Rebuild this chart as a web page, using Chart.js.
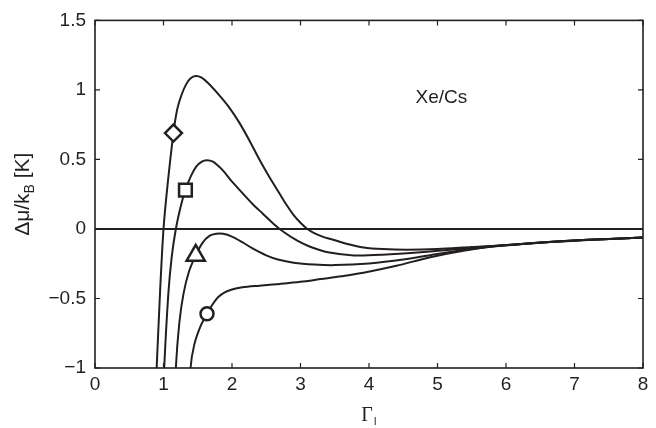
<!DOCTYPE html>
<html><head><meta charset="utf-8">
<script src="https://cdn.jsdelivr.net/npm/chart.js@4.4.1/dist/chart.umd.min.js"></script>
<style>html,body{margin:0;padding:0;background:#fff}#wrap{width:656px;height:428px;position:relative}</style>
</head><body><div id="wrap"><canvas id="c"></canvas></div>
<script>
// ---- data ----
const xTicks = [0, 1, 2, 3, 4, 5, 6, 7, 8];
const yTicks = [-1, -0.5, 0, 0.5, 1, 1.5];
const yTickLabels = ['\u22121', '\u22120.5', '0', '0.5', '1', '1.5'];

const curveAX = [0.86, 0.90, 0.95, 1.00, 1.06, 1.145, 1.20, 1.26, 1.33, 1.40, 1.47, 1.55, 1.65, 1.80, 1.95, 2.10, 2.25, 2.40, 2.55, 2.70, 2.80, 2.90, 3.00, 3.10, 3.20, 3.32, 3.44, 3.70, 3.92, 4.20, 4.55, 5.00, 5.50, 5.84, 6.50, 7.20, 8.00];
const curveAY = [-1.4, -1.0, -0.45, 0.0, 0.32, 0.69, 0.86, 0.96, 1.04, 1.085, 1.10, 1.09, 1.05, 0.97, 0.88, 0.77, 0.64, 0.50, 0.37, 0.25, 0.17, 0.10, 0.045, 0.0, -0.03, -0.055, -0.072, -0.11, -0.133, -0.145, -0.15, -0.145, -0.13, -0.121, -0.098, -0.078, -0.062];

const curveBX = [0.98, 1.01, 1.07, 1.12, 1.18, 1.25, 1.32, 1.40, 1.48, 1.56, 1.63, 1.72, 1.85, 2.00, 2.15, 2.30, 2.45, 2.60, 2.75, 2.96, 3.15, 3.40, 3.78, 4.20, 4.80, 5.40, 5.84, 6.50, 7.20, 8.00];
const curveBY = [-1.4, -1.0, -0.47, -0.2, 0.0, 0.16, 0.28, 0.38, 0.45, 0.485, 0.495, 0.485, 0.43, 0.34, 0.26, 0.18, 0.11, 0.04, -0.02, -0.086, -0.13, -0.168, -0.19, -0.185, -0.165, -0.14, -0.122, -0.098, -0.078, -0.062];

const curveCX = [1.15, 1.18, 1.23, 1.29, 1.37, 1.47, 1.57, 1.67, 1.77, 1.87, 2.00, 2.15, 2.30, 2.50, 2.67, 2.90, 3.20, 3.50, 4.00, 4.50, 5.00, 5.40, 5.84, 6.50, 7.20, 8.00];
const curveCY = [-1.4, -1.0, -0.68, -0.47, -0.31, -0.19, -0.10, -0.05, -0.035, -0.035, -0.055, -0.095, -0.14, -0.19, -0.22, -0.243, -0.256, -0.26, -0.248, -0.22, -0.18, -0.15, -0.124, -0.099, -0.078, -0.062];

const curveDX = [1.37, 1.395, 1.45, 1.54, 1.635, 1.72, 1.80, 1.90, 2.00, 2.15, 2.40, 2.70, 3.00, 3.30, 3.60, 3.92, 4.40, 4.88, 5.40, 5.84, 6.50, 7.20, 8.00];
const curveDY = [-1.4, -1.0, -0.83, -0.70, -0.61, -0.54, -0.49, -0.455, -0.435, -0.42, -0.408, -0.395, -0.38, -0.36, -0.34, -0.315, -0.265, -0.205, -0.155, -0.125, -0.099, -0.079, -0.062];

const markerX = [1.145, 1.32, 1.47, 1.635];
const markerY = [0.69, 0.28, -0.19, -0.61];
const markerStyles = ['rectRot', 'rect', 'triangle', 'circle'];
const markerRadius = [8.5, 9, 10.5, 6.5];

const zeroX = [0, 8];
const zeroY = [0, 0];

const annotationText = 'Xe/Cs';
const annotationX = 4.68;
const annotationY = 0.94;

// ---- build ----
const INK = '#231f20';
const FONT = '"Liberation Sans", Arial, sans-serif';
const pts = (xs, ys) => xs.map((x, i) => ({x, y: ys[i]}));
const lineDs = (xs, ys) => ({
  type: 'line', data: pts(xs, ys), borderColor: INK, borderWidth: 2,
  pointRadius: 0, fill: false, tension: 0.3, clip: 0, order: 2
});
const datasets = [
  lineDs(zeroX, zeroY),
  lineDs(curveAX, curveAY),
  lineDs(curveBX, curveBY),
  lineDs(curveCX, curveCY),
  lineDs(curveDX, curveDY)
];
datasets[0].tension = 0;
markerX.forEach((x, i) => {
  datasets.push({
    type: 'scatter', data: [{x, y: markerY[i]}], pointStyle: markerStyles[i],
    pointRadius: markerRadius[i], pointBackgroundColor: '#fff', pointBorderColor: INK,
    pointBorderWidth: 2.5, showLine: false, order: 0, clip: false
  });
});

const decor = {
  id: 'decor',
  afterDraw(chart) {
    const {ctx, chartArea: a, scales: {x, y}} = chart;
    ctx.save();
    ctx.strokeStyle = INK;
    ctx.lineWidth = 1.6;
    ctx.strokeRect(a.left, a.top, a.right - a.left, a.bottom - a.top);
    ctx.lineWidth = 1.2;
    const tl = 5;
    ctx.beginPath();
    xTicks.forEach(v => {
      const px = x.getPixelForValue(v);
      ctx.moveTo(px, a.bottom); ctx.lineTo(px, a.bottom - tl);
      ctx.moveTo(px, a.top); ctx.lineTo(px, a.top + tl);
    });
    yTicks.forEach(v => {
      const py = y.getPixelForValue(v);
      ctx.moveTo(a.left, py); ctx.lineTo(a.left + tl, py);
      ctx.moveTo(a.right, py); ctx.lineTo(a.right - tl, py);
    });
    ctx.stroke();

    ctx.fillStyle = INK;
    // annotation
    ctx.font = '19px ' + FONT;
    ctx.textBaseline = 'middle';
    ctx.textAlign = 'left';
    ctx.fillText(annotationText, x.getPixelForValue(annotationX), y.getPixelForValue(annotationY));

    // x title: Γ_l
    const xc = (a.left + a.right) / 2;
    ctx.font = '20px "Liberation Serif", "Times New Roman", serif';
    ctx.textAlign = 'center';
    ctx.textBaseline = 'alphabetic';
    ctx.fillText('\u0393', xc - 2, 421);
    ctx.font = '11px ' + FONT;
    ctx.textAlign = 'left';
    ctx.fillText('l', xc + 5, 425);

    // y title: Δμ/k_B [K]
    ctx.save();
    ctx.translate(29, (a.top + a.bottom) / 2);
    ctx.rotate(-Math.PI / 2);
    const f1 = '21px ' + FONT;
    const f2 = '14px ' + FONT;
    const p1 = '\u0394\u03bc/k', p2 = 'B', p3 = ' [K]';
    ctx.font = f1; const w1 = ctx.measureText(p1).width; const w3 = ctx.measureText(p3).width;
    ctx.font = f2; const w2 = ctx.measureText(p2).width;
    let sx = -(w1 + w2 + w3) / 2;
    ctx.textAlign = 'left';
    ctx.font = f1; ctx.fillText(p1, sx, 0); sx += w1;
    ctx.font = f2; ctx.fillText(p2, sx, 5); sx += w2;
    ctx.font = f1; ctx.fillText(p3, sx, 0);
    ctx.restore();
    ctx.restore();
  }
};

new Chart(document.getElementById('c'), {
  type: 'scatter',
  data: {datasets},
  options: {
    responsive: true, maintainAspectRatio: false, animation: false,
    layout: {padding: {top: 18, right: 6, left: 0, bottom: 0}},
    plugins: {legend: {display: false}, tooltip: {enabled: false}},
    scales: {
      x: {
        type: 'linear', min: 0, max: 8,
        afterBuildTicks: s => { s.ticks = xTicks.map(v => ({value: v})); },
        ticks: {color: INK, font: {size: 19, family: FONT}, padding: 5, maxRotation: 0},
        grid: {display: false, drawTicks: false},
        border: {display: false},
        afterFit: s => { s.height = 60; }
      },
      y: {
        type: 'linear', min: -1, max: 1.5,
        afterBuildTicks: s => { s.ticks = yTicks.map(v => ({value: v})); },
        ticks: {color: INK, font: {size: 19, family: FONT}, padding: 9,
          callback: (v) => { const i = yTicks.indexOf(v); return i >= 0 ? yTickLabels[i] : ''; }},
        grid: {display: false, drawTicks: false},
        border: {display: false},
        afterFit: s => { s.width = 95; }
      }
    }
  },
  plugins: [decor]
});
</script></body></html>
